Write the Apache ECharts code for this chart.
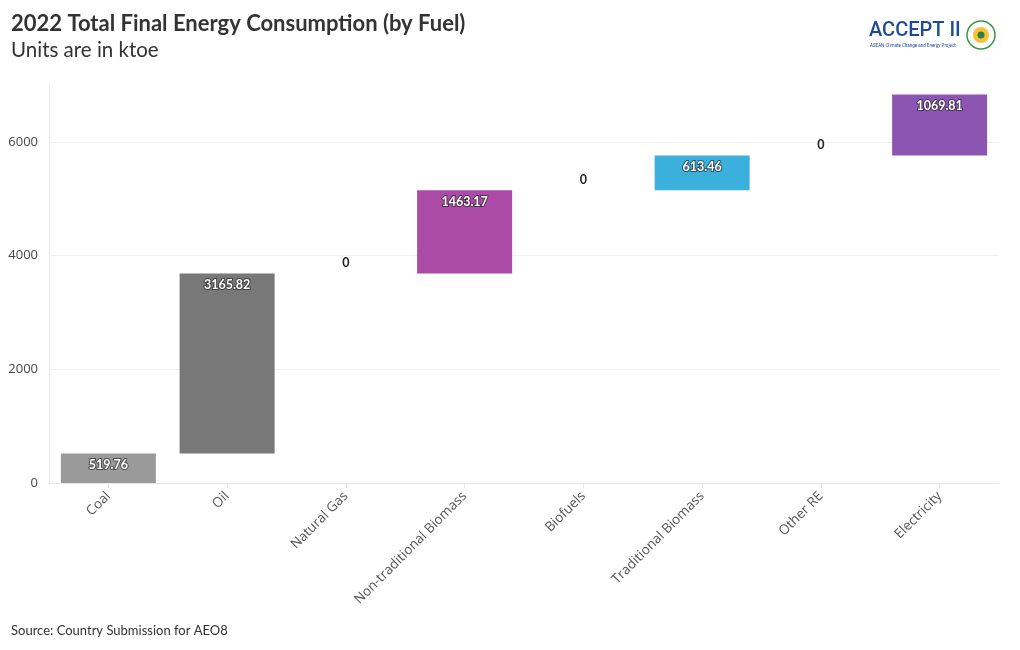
<!DOCTYPE html>
<html>
<head>
<meta charset="utf-8">
<script src="https://cdn.jsdelivr.net/npm/echarts@6/dist/echarts.min.js"></script>
<style>
html,body{margin:0;padding:0;background:#fff;}
#chart{width:1020px;height:650px;}
</style>
</head>
<body>
<div id="chart"></div>
<script>
var categories = ["Coal", "Oil", "Natural Gas", "Non-traditional Biomass", "Biofuels", "Traditional Biomass", "Other RE", "Electricity"];
var values = [519.76, 3165.82, 0, 1463.17, 0, 613.46, 0, 1069.81];
var colors = ["#9a9a9a", "#787878", "#888888", "#ab4ba7", "#777777", "#3bb0dd", "#777777", "#8b55b1"];
var yTicks = [0, 2000, 4000, 6000];

var base = [];
var run = 0;
for (var i = 0; i < values.length; i++) { base.push(run); run += values[i]; }

var chart = echarts.init(document.getElementById('chart'));
var font = "'Source Sans Pro','Lato','Noto Sans',sans-serif";
chart.setOption({
  animation: false,
  title: [
    {text: "2022 Total Final Energy Consumption (by Fuel)", left: 11, top: 13, padding: 0,
     textStyle: {fontFamily: "'Lato','Noto Sans',sans-serif", fontSize: 22, fontWeight: 'bold', color: '#333'}},
    {text: "Units are in ktoe", left: 11, top: 40, padding: 0,
     textStyle: {fontFamily: "'Lato','Noto Sans',sans-serif", fontSize: 20.5, fontWeight: 'normal', color: '#333'}},
    {text: "Source: Country Submission for AEO8", left: 11, top: 624, padding: 0,
     textStyle: {fontFamily: "'Lato','Noto Sans',sans-serif", fontSize: 13, fontWeight: 'normal', color: '#333'}}
  ],
  graphic: [
    {type: 'text', left: 869, top: 21, style: {text: 'ACCEPT II', fill: '#1f4a9a', font: "500 20px 'Roboto',sans-serif"}},
    {type: 'text', left: 870, top: 43, style: {text: 'ASEAN Climate Change and Energy Project', fill: '#1f4a9a', font: "4.5px 'Roboto',sans-serif"}},
    {type: 'circle', shape: {cx: 981, cy: 35, r: 14}, style: {fill: 'none', stroke: '#3a9a4a', lineWidth: 1.5}},
    {type: 'circle', shape: {cx: 981, cy: 35, r: 8}, style: {fill: '#f5c33b'}},
    {type: 'circle', shape: {cx: 981, cy: 35, r: 3.5}, style: {fill: '#2f7d3f'}}
  ],
  grid: {left: 49, right: 21, top: 85, bottom: 167, containLabel: false},
  xAxis: {
    type: 'category', data: categories,
    axisLine: {show: true, lineStyle: {color: '#e6e6e6'}},
    axisTick: {show: true, alignWithLabel: true, length: 5, lineStyle: {color: '#e6e6e6'}},
    axisLabel: {rotate: 45, interval: 0, margin: 11, color: '#555', fontSize: 13.5, fontFamily: "'Open Sans',sans-serif"}
  },
  yAxis: {
    type: 'value', min: 0, max: 7000, interval: 2000,
    axisLine: {show: true, lineStyle: {color: '#ececec'}},
    axisTick: {show: false},
    axisLabel: {showMaxLabel: false, color: '#444', fontSize: 13, margin: 11, fontFamily: "'Open Sans',sans-serif",
      formatter: function (v) { return String(v); }},
    splitLine: {show: true, showMaxLine: false, lineStyle: {color: '#efefef'}}
  },
  series: [
    {type: 'bar', stack: 'w', data: base, itemStyle: {color: 'transparent'}, barCategoryGap: '20%', silent: true},
    {type: 'bar', stack: 'w', barCategoryGap: '20%',
     data: values.map(function (v, i) {
       var zero = v === 0;
       return {
         value: v,
         itemStyle: {color: colors[i]},
         label: zero ? {show: true, position: 'top', distance: 4, color: '#222', textBorderWidth: 0, fontWeight: 'bold'}
                     : {show: true, position: 'insideTop', distance: 5}
       };
     }),
     label: {show: true, color: '#fff', fontWeight: 'bold', fontSize: 12.5, fontFamily: font,
       textBorderColor: 'rgba(40,40,40,0.7)', textBorderWidth: 2,
       formatter: function (p) { return p.value === 0 ? '0' : p.value.toFixed(2); }}
    }
  ]
});
</script>
</body>
</html>
